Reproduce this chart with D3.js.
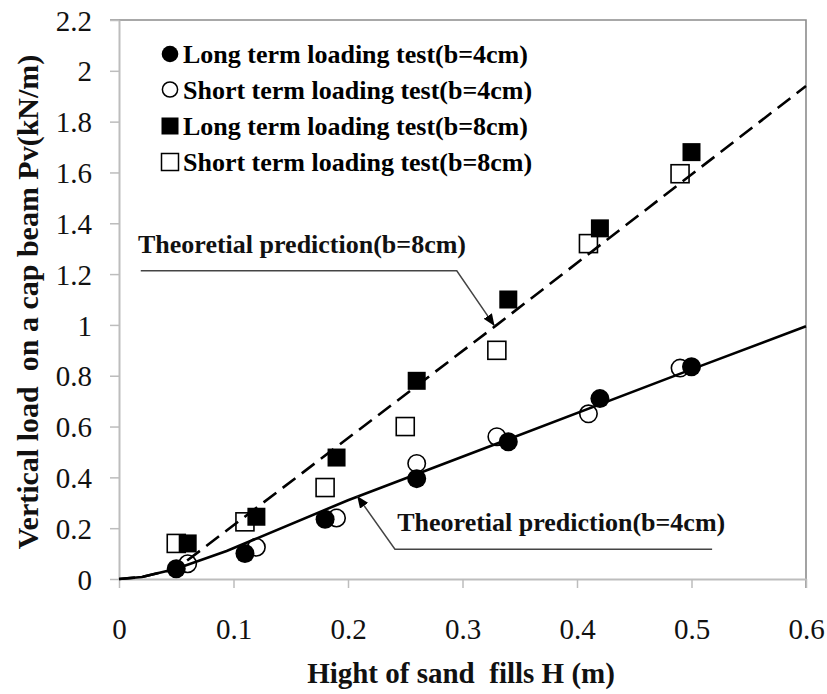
<!DOCTYPE html>
<html>
<head>
<meta charset="utf-8">
<script src="https://cdn.jsdelivr.net/npm/d3@7"></script>
<style>
    html, body { margin: 0; padding: 0; background: #fff; }
    svg { display: block; }
</style>
</head>
<body>
<svg id="canvas" width="827" height="694"></svg>
<script>
// measured points, [H (m), Pv (kN/m)]
var longB4 = [[0.05, 0.04], [0.11, 0.10], [0.18, 0.235], [0.26, 0.395], [0.34, 0.54], [0.42, 0.71], [0.50, 0.835]];
var shortB4 = [[0.06, 0.06], [0.12, 0.125], [0.19, 0.24], [0.26, 0.455], [0.33, 0.56], [0.41, 0.65], [0.49, 0.83]];
var longB8 = [[0.06, 0.14], [0.12, 0.245], [0.19, 0.478], [0.26, 0.78], [0.34, 1.10], [0.42, 1.38], [0.50, 1.68]];
var shortB8 = [[0.05, 0.14], [0.11, 0.225], [0.18, 0.36], [0.25, 0.60], [0.33, 0.90], [0.41, 1.32], [0.49, 1.595]];

// theoretical prediction curves
var theoryB4 = [[0, 0], [0.02, 0.008], [0.05, 0.04], [0.094, 0.11], [0.2, 0.31], [0.34, 0.55], [0.5, 0.825], [0.6, 0.995]];
var theoryB8 = [[0, 0], [0.02, 0.008], [0.05, 0.04], [0.33, 1.0], [0.6, 1.94]];

var xTicks = [0, 0.1, 0.2, 0.3, 0.4, 0.5, 0.6];
var yTicks = [0, 0.2, 0.4, 0.6, 0.8, 1, 1.2, 1.4, 1.6, 1.8, 2, 2.2];

var legendLabels = [
    'Long term loading test(b=4cm)',
    'Short term loading test(b=4cm)',
    'Long term loading test(b=8cm)',
    'Short term loading test(b=8cm)'
];

function drawChart() {
    "use strict";

    var SERIF = '"Liberation Serif", "Times New Roman", serif';
    var margin = {top: 20, right: 21, bottom: 115, left: 119};
    var STAGE_WIDTH = 827, STAGE_HEIGHT = 694;
    var W = STAGE_WIDTH - margin.left - margin.right;
    var H = STAGE_HEIGHT - margin.top - margin.bottom;

    var svg = d3.select(document.getElementById('canvas'));
    var g = svg.append('g').attr('transform', 'translate(' + margin.left + ',' + margin.top + ')');

    var x = d3.scaleLinear().domain([0, 0.6]).range([0, W]);
    var y = d3.scaleLinear().domain([0, 2.2]).range([H, 0]);
    var fmt = function(d) { return String(+d.toFixed(1)); };

    // frame (top + right)
    g.append('path')
        .attr('d', 'M' + (-9) + ',0H' + W + 'V' + (H + 9))
        .attr('fill', 'none')
        .attr('stroke', '#8c8c8c')
        .attr('stroke-width', 1.6);

    // axes
    var yAxis = g.append('g')
        .call(d3.axisLeft(y).tickValues(yTicks).tickFormat(fmt).tickSize(9).tickSizeOuter(0).tickPadding(18));
    var xAxis = g.append('g')
        .attr('transform', 'translate(0,' + H + ')')
        .call(d3.axisBottom(x).tickValues(xTicks).tickFormat(fmt).tickSize(9).tickSizeOuter(0).tickPadding(30));

    [xAxis, yAxis].forEach(function(ax) {
        ax.select('.domain').attr('stroke', '#bdbdbd').attr('stroke-width', 2);
        ax.selectAll('.tick line').attr('stroke', '#bdbdbd').attr('stroke-width', 1.5);
        ax.selectAll('.tick text')
            .attr('fill', '#111')
            .attr('font-family', SERIF)
            .attr('font-size', '29px');
    });
    yAxis.selectAll('.tick text').attr('dy', '0.35em');
    xAxis.selectAll('.tick text').attr('dy', '0.71em');

    // axis titles
    svg.append('text')
        .attr('x', 461)
        .attr('y', 683)
        .attr('text-anchor', 'middle')
        .attr('font-family', SERIF)
        .attr('font-weight', 'bold')
        .attr('font-size', '29px')
        .attr('fill', '#111')
        .attr('xml:space', 'preserve')
        .text('Hight of sand  fills H (m)');

    svg.append('text')
        .attr('transform', 'translate(38,' + 302 + ') rotate(-90)')
        .attr('text-anchor', 'middle')
        .attr('font-family', SERIF)
        .attr('font-weight', 'bold')
        .attr('font-size', '30px')
        .attr('fill', '#111')
        .attr('xml:space', 'preserve')
        .text('Vertical load  on a cap beam Pv(kN/m)');

    // markers
    var R = 9.5, S = 18;
    function circles(data, filled) {
        g.append('g').selectAll('circle')
            .data(data)
            .enter().append('circle')
            .attr('cx', function(d) { return x(d[0]); })
            .attr('cy', function(d) { return y(d[1]); })
            .attr('r', filled ? R : R - 0.8)
            .attr('fill', filled ? '#000' : '#fff')
            .attr('stroke', '#000')
            .attr('stroke-width', filled ? 0 : 1.6);
    }
    function squares(data, filled) {
        g.append('g').selectAll('rect')
            .data(data)
            .enter().append('rect')
            .attr('x', function(d) { return x(d[0]) - S / 2; })
            .attr('y', function(d) { return y(d[1]) - S / 2; })
            .attr('width', S)
            .attr('height', S)
            .attr('fill', filled ? '#000' : '#fff')
            .attr('stroke', '#000')
            .attr('stroke-width', filled ? 0 : 1.6);
    }
    squares(shortB8, false);
    circles(shortB4, false);
    squares(longB8, true);
    circles(longB4, true);

    // theory lines
    var line = d3.line()
        .x(function(d) { return x(d[0]); })
        .y(function(d) { return y(d[1]); });
    g.append('path')
        .datum(theoryB8)
        .attr('d', line)
        .attr('fill', 'none')
        .attr('stroke', '#000')
        .attr('stroke-width', 2.6)
        .attr('stroke-dasharray', '16,8');
    g.append('path')
        .datum(theoryB4)
        .attr('d', line)
        .attr('fill', 'none')
        .attr('stroke', '#000')
        .attr('stroke-width', 2.6);

    // legend
    var legendY = [54, 89.5, 126, 162];
    var lg = svg.append('g');
    legendLabels.forEach(function(label, i) {
        var cy = legendY[i];
        if (i < 2) {
            lg.append('circle')
                .attr('cx', 170).attr('cy', cy)
                .attr('r', i === 0 ? 8.3 : 7.6)
                .attr('fill', i === 0 ? '#000' : '#fff')
                .attr('stroke', '#000')
                .attr('stroke-width', i === 0 ? 0 : 1.5);
        } else {
            lg.append('rect')
                .attr('x', 170 - 8.5).attr('y', cy - 8.5)
                .attr('width', 17).attr('height', 17)
                .attr('fill', i === 2 ? '#000' : '#fff')
                .attr('stroke', '#000')
                .attr('stroke-width', i === 2 ? 0 : 1.5);
        }
        lg.append('text')
            .attr('x', 183)
            .attr('y', cy + 9)
            .attr('font-family', SERIF)
            .attr('font-weight', 'bold')
            .attr('font-size', '26px')
            .attr('fill', '#000')
            .text(label);
    });

    // annotations (positions in data units)
    var defs = svg.append('defs');
    defs.append('marker')
        .attr('id', 'arrow')
        .attr('viewBox', '0 0 12 10')
        .attr('refX', 12).attr('refY', 5)
        .attr('markerWidth', 12).attr('markerHeight', 10)
        .attr('markerUnits', 'userSpaceOnUse')
        .attr('orient', 'auto')
        .append('path')
        .attr('d', 'M0,0L12,5L0,10Z')
        .attr('fill', '#000');

    var notes = [
        {text: 'Theoretial prediction(b=8cm)', tx: 0.0166, ty: 1.283,
            path: [[0.019, 1.213], [0.295, 1.213], [0.328, 0.996]]},
        {text: 'Theoretial prediction(b=4cm)', tx: 0.243, ty: 0.189,
            path: [[0.518, 0.117], [0.241, 0.117], [0.208, 0.327]]}
    ];
    notes.forEach(function(n) {
        g.append('path')
            .datum(n.path)
            .attr('d', line)
            .attr('fill', 'none')
            .attr('stroke', '#444')
            .attr('stroke-width', 1.5)
            .attr('marker-end', 'url(#arrow)');
        g.append('text')
            .attr('x', x(n.tx))
            .attr('y', y(n.ty))
            .attr('font-family', SERIF)
            .attr('font-weight', 'bold')
            .attr('font-size', '26px')
            .attr('fill', '#111')
            .text(n.text);
    });
}

drawChart();
</script>
</body>
</html>
